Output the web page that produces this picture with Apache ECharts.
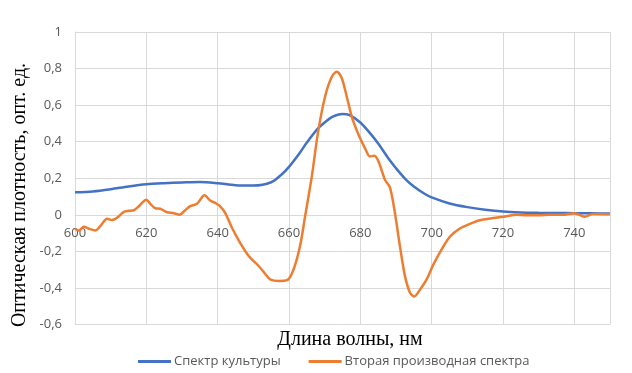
<!DOCTYPE html>
<html>
<head>
<meta charset="utf-8">
<script src="https://cdn.jsdelivr.net/npm/echarts@6/dist/echarts.min.js"></script>
<style>
html,body{margin:0;padding:0;background:#fff;}
#chart{width:632px;height:373px;}
</style>
</head>
<body>
<div id="chart"></div>
<script>
// ---- data ----
const seriesNames = ['Спектр культуры', 'Вторая производная спектра'];
const xAxisTitle = 'Длина волны, нм';
const yAxisTitle = 'Оптическая плотность, опт. ед.';

const spectrumX = [600,605,610,615,620,625,630,635,640,645,650,655,658,660,663,665,668,670,672,675,677,680,683,685,688,690,693,695,698,700,705,710,715,720,725,730,735,740,745,750];
const spectrumY = [0.123,0.128,0.140,0.155,0.167,0.173,0.177,0.180,0.173,0.162,0.160,0.178,0.222,0.262,0.338,0.395,0.470,0.505,0.535,0.552,0.545,0.505,0.440,0.390,0.305,0.255,0.188,0.155,0.115,0.095,0.062,0.042,0.028,0.018,0.013,0.011,0.010,0.009,0.008,0.007];

const derivX = [600,601.1,602.5,603.9,605.7,607.1,609,610.4,611.8,613.7,615.1,616.5,617.9,620,621.1,622.5,623.9,625.8,627.7,629.3,630.9,632.3,634.2,636.3,637.9,639.3,640.5,642.1,644,646.3,648.7,651.5,653.4,654.7,657.1,659.6,661.3,663.1,664.5,666.4,668.1,670.1,672,673.4,674.8,676.2,677.6,679.5,681.3,682.7,683.9,685.1,686.9,688.3,689.7,691.1,692.5,693.9,695.1,696.8,698.6,700.5,702.8,705.1,707.9,710.7,713.5,716.5,720.1,723.8,726.6,730,733,736.7,740,742.9,745.2,750];
const derivY = [-0.076,-0.086,-0.065,-0.076,-0.086,-0.062,-0.022,-0.029,-0.016,0.016,0.022,0.025,0.047,0.083,0.060,0.036,0.033,0.014,0.009,0.000,0.025,0.047,0.060,0.107,0.078,0.065,0.050,0.011,-0.071,-0.153,-0.225,-0.280,-0.325,-0.353,-0.362,-0.356,-0.298,-0.171,-0.010,0.210,0.447,0.646,0.755,0.783,0.747,0.646,0.537,0.438,0.365,0.319,0.323,0.292,0.192,0.150,0.010,-0.171,-0.334,-0.425,-0.447,-0.407,-0.353,-0.271,-0.189,-0.120,-0.075,-0.050,-0.030,-0.020,-0.011,0.000,-0.002,-0.002,0.000,0.000,0.009,-0.010,0.005,0.003];

const xMin = 600, xMax = 750, xStep = 20;
const yMin = -0.6, yMax = 1, yStep = 0.2;

// ---- chart ----
const chart = echarts.init(document.getElementById('chart'), null, {renderer: 'canvas'});
const fmtY = v => {
  const r = Math.round(v * 10) / 10;
  return String(r).replace('.', ',');
};
const gridColor = '#d9d9d9';
const labelFont = '"Open Sans", "Noto Sans", sans-serif';
const gridTop = 32, gridHeight = 292.5;

chart.setOption({
  animation: false,
  backgroundColor: '#ffffff',
  grid: {left: 75, top: gridTop, width: 535, height: gridHeight, containLabel: false},
  xAxis: {
    type: 'value', min: xMin, max: xMax, interval: xStep,
    axisLine: {show: true, onZero: false, lineStyle: {color: gridColor, width: 1}},
    axisTick: {show: false},
    axisLabel: {color: '#595959', fontSize: 13, fontFamily: labelFont, margin: 12, showMaxLabel: false,
      formatter: v => (v >= xMax ? '' : String(v))},
    splitLine: {show: true, lineStyle: {color: gridColor, width: 1}}
  },
  yAxis: {
    type: 'value', min: yMin, max: yMax, interval: yStep,
    axisLine: {show: true, onZero: false, lineStyle: {color: gridColor, width: 1}},
    axisTick: {show: false},
    axisLabel: {color: '#595959', fontSize: 13, fontFamily: labelFont, margin: 13, formatter: fmtY},
    splitLine: {show: true, lineStyle: {color: gridColor, width: 1}}
  },
  legend: {
    left: 133, top: 350,
    itemWidth: 33, itemHeight: 3, itemGap: 28,
    icon: 'rect',
    textStyle: {color: '#595959', fontSize: 13, fontFamily: labelFont, padding: [0,0,0,-2]},
    data: seriesNames
  },
  series: [
    {
      name: seriesNames[0], type: 'line', smooth: 0.3, symbol: 'none',
      lineStyle: {color: '#4472C4', width: 2.5}, itemStyle: {color: '#4472C4'},
      data: spectrumX.map((x, i) => [x, spectrumY[i]])
    },
    {
      name: seriesNames[1], type: 'line', smooth: 0.3, symbol: 'none',
      lineStyle: {color: '#ED7D31', width: 2.5}, itemStyle: {color: '#ED7D31'},
      data: derivX.map((x, i) => [x, derivY[i]])
    }
  ],
  graphic: [
    {type: 'text', x: 20, y: 195, rotation: Math.PI / 2,
      style: {text: yAxisTitle, font: '20px "Liberation Serif", "DejaVu Serif", serif', fill: '#000', align: 'center', verticalAlign: 'middle'}},
    {type: 'text', x: 350, y: 340,
      style: {text: xAxisTitle, font: '20px "Liberation Serif", "DejaVu Serif", serif', fill: '#000', align: 'center', verticalAlign: 'middle'}}
  ]
});

// place the category axis on the zero line (as in the original), using the library's own y scale
const zeroY = chart.convertToPixel({yAxisIndex: 0}, 0);
chart.setOption({xAxis: {offset: -((gridTop + gridHeight) - zeroY)}});
</script>
</body>
</html>
